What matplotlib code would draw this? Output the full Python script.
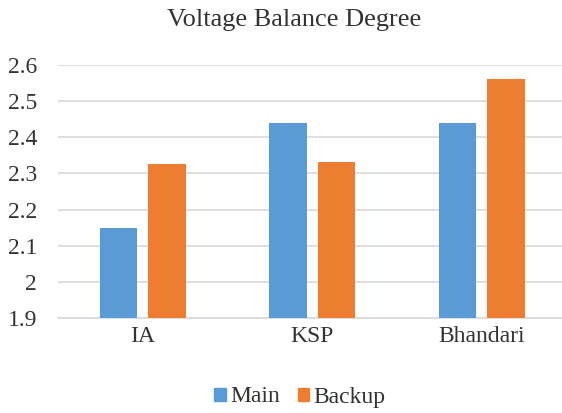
import matplotlib
matplotlib.use("Agg")
import matplotlib.pyplot as plt
import numpy as np
from matplotlib.patches import Patch

categories = ["IA", "KSP", "Bhandari"]
main_vals = [2.148, 2.441, 2.441]
backup_vals = [2.326, 2.333, 2.561]
yticks = [1.9, 2.0, 2.1, 2.2, 2.3, 2.4, 2.5, 2.6]
ytick_labels = ["1.9", "2", "2.1", "2.2", "2.3", "2.4", "2.5", "2.6"]

plt.rcParams['font.family'] = ['Liberation Serif', 'DejaVu Serif']
txt = "#333333"

fig = plt.figure(figsize=(5.62, 4.13), dpi=100)
ax = fig.add_axes([58/562, 1-317.7/413, 508.5/562, (317.7-65.3)/413])

x = np.arange(len(categories))
w = 0.224
off = 0.143
ax.bar(x - off, [v - 1.9 for v in main_vals], w, bottom=1.9, color="#5B9BD5", label="Main", zorder=3)
ax.bar(x + off, [v - 1.9 for v in backup_vals], w, bottom=1.9, color="#ED7D31", label="Backup", zorder=3)

ax.set_xlim(-0.5, 2.5)
ax.set_ylim(1.9, 2.6)
ax.set_yticks(yticks)
ax.set_yticklabels(ytick_labels, fontsize=17, color=txt)
ax.set_xticks(x)
ax.set_xticklabels(categories, fontsize=17, color=txt)
ax.tick_params(axis='x', length=0, pad=6)
ax.tick_params(axis='y', length=0, pad=15)
ax.grid(axis='y', color="#D9D9D9", linewidth=1.2, zorder=0)
for s in ["top", "right", "left"]:
    ax.spines[s].set_visible(False)
ax.spines["bottom"].set_color("#D9D9D9")
ax.spines["bottom"].set_linewidth(1.2)

fig.text(294/562, 1-20/413, "Voltage Balance Degree", ha="center", va="center", fontsize=19, color=txt)

handles = [Patch(color="#5B9BD5", label="Main"), Patch(color="#ED7D31", label="Backup")]
fig.legend(handles=handles, loc="center", bbox_to_anchor=(300/562, 1-397/413), ncol=2, frameon=False,
           fontsize=17, handlelength=0.47, handleheight=0.47, handletextpad=0.2, columnspacing=0.75,
           labelcolor=txt)

fig.savefig("out.png", dpi=100)
